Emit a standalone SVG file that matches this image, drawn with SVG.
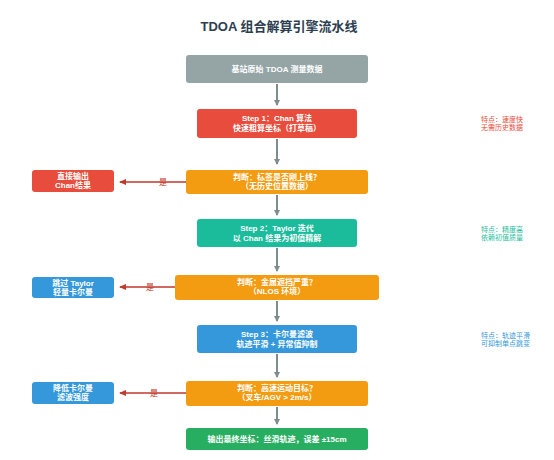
<svg xmlns="http://www.w3.org/2000/svg" width="554" height="460" viewBox="0 0 554 460">
<defs>
<marker id="ag" markerWidth="6" markerHeight="6" refX="5" refY="3" orient="auto" markerUnits="userSpaceOnUse"><path d="M0,0 L6,3 L0,6 Z" fill="#7f8c8d"/></marker>
<marker id="ar" markerWidth="7" markerHeight="6" refX="6" refY="3" orient="auto" markerUnits="userSpaceOnUse"><path d="M0,0 L7,3 L0,6 Z" fill="#c0392b"/></marker>
<style>
.t{font-family:"Liberation Sans","Noto Sans CJK SC",sans-serif;fill:#fff;font-size:8px;text-anchor:middle;font-weight:bold}
.n{font-family:"Liberation Sans","Noto Sans CJK SC",sans-serif;font-size:7px}
.c{stroke:#7f8c8d;stroke-width:2;fill:none;marker-end:url(#ag)}
.r{stroke:#c0392b;stroke-width:1.5;fill:none;marker-end:url(#ar)}
.y{font-family:"Liberation Sans","Noto Sans CJK SC",sans-serif;font-size:8px;fill:#c0392b;text-anchor:middle}
</style>
</defs>
<rect width="554" height="460" fill="#fff"/>
<text x="279" y="31" text-anchor="middle" font-family="'Liberation Sans','Noto Sans CJK SC',sans-serif" font-size="13" font-weight="bold" fill="#2c3e50">TDOA 组合解算引擎流水线</text>

<g id="connectors">
<line class="c" x1="277" y1="84" x2="277" y2="105"/>
<line class="c" x1="277" y1="139" x2="277" y2="164"/>
<line class="c" x1="277" y1="195" x2="277" y2="215"/>
<line class="c" x1="277" y1="248" x2="277" y2="271"/>
<line class="c" x1="277" y1="301" x2="277" y2="321"/>
<line class="c" x1="277" y1="354" x2="277" y2="377"/>
<line class="c" x1="277" y1="407" x2="277" y2="424"/>
<line class="r" x1="186" y1="182" x2="120" y2="182"/>
<text class="y" x="163" y="185">是</text>
<line class="r" x1="175" y1="287" x2="120" y2="287"/>
<text class="y" x="150" y="290">是</text>
<line class="r" x1="186" y1="393" x2="120" y2="393"/>
<text class="y" x="154" y="396">是</text>
</g>

<g id="raw"><rect x="186" y="55" width="182" height="28" rx="3" fill="#95a5a6"/><text class="t" x="277" y="72">基站原始 TDOA 测量数据</text></g>
<g id="step1"><rect x="197" y="109" width="160" height="29" rx="3" fill="#e74c3c"/><text class="t" x="277" y="121">Step 1：Chan 算法</text><text class="t" x="277" y="131">快速粗算坐标（打草稿）</text></g>
<g id="dec1"><rect x="186" y="170" width="182" height="24" rx="3" fill="#f39c12"/><text class="t" x="277" y="180" font-size="7">判断：标签是否刚上线？</text><text class="t" x="277" y="189" font-size="7">（无历史位置数据）</text></g>
<g id="out1"><rect x="32" y="170" width="82" height="22" rx="3" fill="#e74c3c"/><text class="t" x="73" y="179" font-size="7">直接输出</text><text class="t" x="73" y="188" font-size="7">Chan结果</text></g>
<g id="step2"><rect x="197" y="219" width="160" height="28" rx="3" fill="#1abc9c"/><text class="t" x="277" y="231">Step 2：Taylor 迭代</text><text class="t" x="277" y="241">以 Chan 结果为初值精解</text></g>
<g id="dec2"><rect x="175" y="275" width="204" height="25" rx="3" fill="#f39c12"/><text class="t" x="277" y="285" font-size="7">判断：金属遮挡严重？</text><text class="t" x="277" y="294" font-size="7">（NLOS 环境）</text></g>
<g id="out2"><rect x="32" y="277" width="82" height="21" rx="3" fill="#3498db"/><text class="t" x="73" y="286" font-size="7">跳过 Taylor</text><text class="t" x="73" y="295" font-size="7">轻量卡尔曼</text></g>
<g id="step3"><rect x="197" y="325" width="160" height="28" rx="3" fill="#3498db"/><text class="t" x="277" y="337">Step 3：卡尔曼滤波</text><text class="t" x="277" y="347">轨迹平滑 + 异常值抑制</text></g>
<g id="dec3"><rect x="186" y="381" width="182" height="25" rx="3" fill="#f39c12"/><text class="t" x="277" y="391" font-size="7">判断：高速运动目标？</text><text class="t" x="277" y="400" font-size="7">（叉车/AGV &gt; 2m/s）</text></g>
<g id="out3"><rect x="32" y="382" width="82" height="22" rx="3" fill="#3498db"/><text class="t" x="73" y="391" font-size="7">降低卡尔曼</text><text class="t" x="73" y="400" font-size="7">滤波强度</text></g>
<g id="final"><rect x="186" y="428" width="182" height="22" rx="3" fill="#27ae60"/><text class="t" x="277" y="442">输出最终坐标：丝滑轨迹，误差 ±15cm</text></g>

<g id="notes">
<text class="n" x="481" y="122" fill="#e74c3c">特点：速度快</text><text class="n" x="481" y="130" fill="#e74c3c">无需历史数据</text>
<text class="n" x="481" y="232" fill="#1abc9c">特点：精度高</text><text class="n" x="481" y="240" fill="#1abc9c">依赖初值质量</text>
<text class="n" x="481" y="338" fill="#3498db">特点：轨迹平滑</text><text class="n" x="481" y="346" fill="#3498db">可抑制单点跳变</text>
</g>
</svg>
